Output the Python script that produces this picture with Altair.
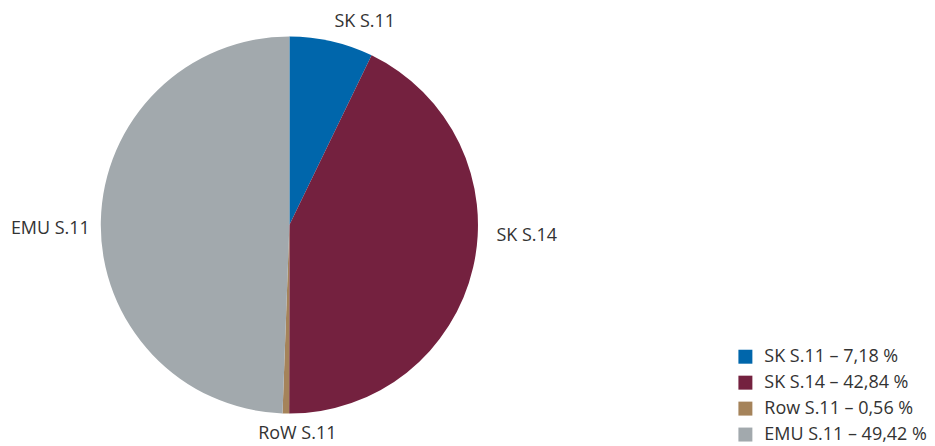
import altair as alt
import pandas as pd

categories = ["SK S.11", "SK S.14", "RoW S.11", "EMU S.11"]
legend_names = ["SK S.11", "SK S.14", "Row S.11", "EMU S.11"]
shares = [7.18, 42.84, 0.56, 49.42]
colors = ["#0066AB", "#74213F", "#A5835A", "#A2A9AD"]

legend_labels = [f"{n} – {str(v).replace('.', ',')} %" for n, v in zip(legend_names, shares)]

df = pd.DataFrame({
    "cat": categories,
    "legend": legend_labels,
    "share": shares,
    "idx": list(range(len(categories))),
})

FONT = "Open Sans"
TEXT_COLOR = "#333333"
FS = 18
cx, cy = 282, 217

base = alt.Chart(df)

pie = base.mark_arc(radius=189).encode(
    theta=alt.Theta("share:Q", stack=True),
    order=alt.Order("idx:Q"),
    color=alt.Color(
        "legend:N",
        sort=legend_labels,
        scale=alt.Scale(domain=legend_labels, range=colors),
        legend=alt.Legend(
            title=None,
            orient="none",
            legendX=730,
            legendY=340,
            symbolType="square",
            symbolSize=196,
            symbolStrokeWidth=0,
            labelFontSize=FS,
            labelFont=FONT,
            labelColor=TEXT_COLOR,
            labelOffset=10,
            labelLimit=400,
            rowPadding=8,
            padding=0,
        ),
    ),
    x=alt.value(cx),
    y=alt.value(cy),
)

# stacked mid angles computed with Vega transforms
text_base = base.transform_window(
    cum="sum(share)", sort=[alt.SortField("idx")], frame=[None, 0]
).transform_calculate(
    mid="datum.cum - datum.share / 2"
)

label_specs = {
    "SK S.11": dict(align="left", dx=-3, dy=6),
    "SK S.14": dict(align="left", dx=-2, dy=-37),
    "RoW S.11": dict(align="center", dx=12, dy=-5),
    "EMU S.11": dict(align="right", dx=15, dy=8),
}

layers = [pie]
for cat in categories:
    spec = label_specs[cat]
    layers.append(
        text_base.transform_filter(alt.datum.cat == cat)
        .mark_text(
            radius=215,
            fontSize=FS,
            font=FONT,
            color=TEXT_COLOR,
            baseline="middle",
            align=spec["align"],
            dx=spec["dx"],
            dy=spec["dy"],
        )
        .encode(
            theta=alt.Theta("mid:Q", scale=alt.Scale(domain=[0, 100], range=[0, 6.283185307])),
            text="cat:N",
            x=alt.value(cx),
            y=alt.value(cy),
        )
    )

chart = alt.layer(*layers).properties(
    width=919, height=430, padding=0
).configure_view(stroke=None).resolve_scale(theta="independent")

chart.save("out.html", embed_options={"renderer": "svg", "actions": False})
